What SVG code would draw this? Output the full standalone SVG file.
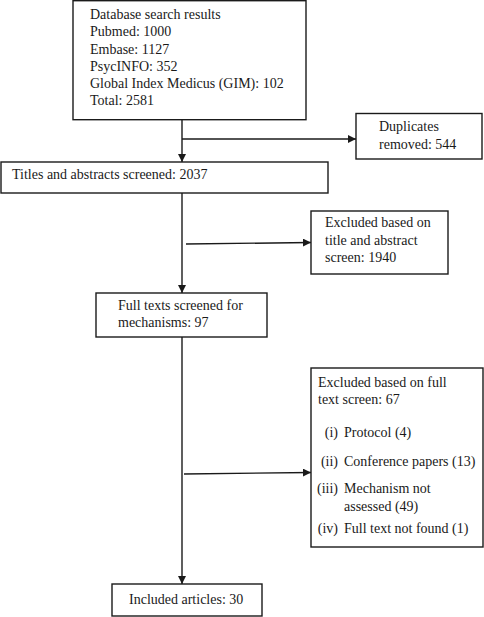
<svg xmlns="http://www.w3.org/2000/svg" width="484" height="617" viewBox="0 0 484 617">
<defs>
<marker id="ah" markerWidth="8" markerHeight="8" refX="8" refY="4" orient="auto" markerUnits="userSpaceOnUse">
<path d="M0,0 L8,4 L0,8 Z" fill="#1a1a1a"/>
</marker>
</defs>
<style>
.box{fill:#fff;stroke:#1a1a1a;stroke-width:1.4}
.t{font-family:"Liberation Serif","Times New Roman",serif;font-size:14px;fill:#1a1a1a}
.c{fill:none;stroke:#1a1a1a;stroke-width:1.4}
</style>
<rect width="484" height="617" fill="#fff"/>
<g id="connectors">
<line class="c" x1="182" y1="120" x2="182" y2="162" marker-end="url(#ah)"/>
<line class="c" x1="182" y1="139" x2="356" y2="139" marker-end="url(#ah)"/>
<line class="c" x1="182" y1="193" x2="182" y2="293" marker-end="url(#ah)"/>
<line class="c" x1="186" y1="244" x2="311" y2="242.5" marker-end="url(#ah)"/>
<line class="c" x1="182" y1="337" x2="182" y2="584" marker-end="url(#ah)"/>
<line class="c" x1="184" y1="474" x2="311" y2="472.5" marker-end="url(#ah)"/>
</g>
<g id="n1">
<rect class="box" x="73" y="0.7" width="233" height="119"/>
<text class="t" x="90" y="19">Database search results</text>
<text class="t" x="90" y="36">Pubmed: 1000</text>
<text class="t" x="90" y="53.5">Embase: 1127</text>
<text class="t" x="90" y="70.5">PsycINFO: 352</text>
<text class="t" x="90" y="88">Global Index Medicus (GIM): 102</text>
<text class="t" x="90" y="105">Total: 2581</text>
</g>
<g id="n2">
<rect class="box" x="356" y="113.5" width="126" height="45.5"/>
<text class="t" x="379" y="131">Duplicates</text>
<text class="t" x="379" y="148.5">removed: 544</text>
</g>
<g id="n3">
<rect class="box" x="1" y="162" width="327" height="31"/>
<text class="t" x="12" y="179">Titles and abstracts screened: 2037</text>
</g>
<g id="n4">
<rect class="box" x="311" y="211" width="137" height="63"/>
<text class="t" x="325" y="227">Excluded based on</text>
<text class="t" x="325" y="245">title and abstract</text>
<text class="t" x="325" y="262">screen: 1940</text>
</g>
<g id="n5">
<rect class="box" x="96" y="293" width="171" height="44"/>
<text class="t" x="118" y="310">Full texts screened for</text>
<text class="t" x="118" y="327">mechanisms: 97</text>
</g>
<g id="n6">
<rect class="box" x="311" y="368" width="172" height="179"/>
<text class="t" x="318" y="387">Excluded based on full</text>
<text class="t" x="318" y="404">text screen: 67</text>
<text class="t" x="338" y="437" text-anchor="end">(i)</text>
<text class="t" x="344" y="437">Protocol (4)</text>
<text class="t" x="338" y="466" text-anchor="end">(ii)</text>
<text class="t" x="344" y="466">Conference papers (13)</text>
<text class="t" x="338" y="493" text-anchor="end">(iii)</text>
<text class="t" x="344" y="493">Mechanism not</text>
<text class="t" x="344" y="511">assessed (49)</text>
<text class="t" x="338" y="533" text-anchor="end">(iv)</text>
<text class="t" x="344" y="533">Full text not found (1)</text>
</g>
<g id="n7">
<rect class="box" x="112" y="584" width="150" height="32"/>
<text class="t" x="129" y="604">Included articles: 30</text>
</g>
</svg>
